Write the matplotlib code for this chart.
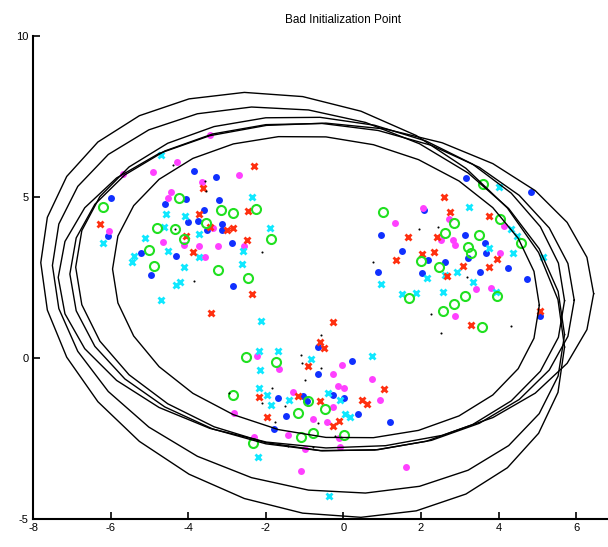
"""Bad GMM initialization: three clusters and the covariance ellipses it ended with."""

import numpy as np
import matplotlib
matplotlib.use("Agg")
import matplotlib.pyplot as plt

plt.rcParams["font.family"] = ["Liberation Sans", "DejaVu Sans"]
plt.rcParams["axes.unicode_minus"] = False

# --- data points (x, y) ---
blue_pts = [
    (-6.0, 4.96), (-6.08, 3.79), (-3.84, 5.81), (-3.29, 5.61), (-4.59, 4.77), (-4.06, 4.93),
    (-3.21, 4.91), (-3.6, 4.59), (-4.01, 4.22), (-3.76, 4.25), (-3.52, 3.98), (-3.14, 4.16),
    (-3.12, 3.98), (-2.88, 3.58), (-5.22, 3.25), (-4.32, 3.18), (-4.95, 2.57), (-2.85, 2.25),
    (3.16, 5.58), (4.83, 5.16), (2.09, 4.6), (0.96, 3.82), (1.5, 3.33), (3.13, 3.82),
    (3.65, 3.56), (2.19, 3.04), (2.62, 2.99), (3.22, 3.1), (3.68, 3.25), (0.9, 2.68),
    (2.03, 2.65), (3.52, 2.67), (4.25, 2.79), (4.74, 2.45), (5.07, 1.3),
    (-0.66, 0.33), (0.21, -0.09), (-0.66, -0.5), (-1.68, -1.25), (-1.03, -1.18), (-0.95, -1.33),
    (-0.28, -1.16), (0.02, -1.23), (-1.48, -1.8), (-1.79, -2.19), (0.38, -1.73), (1.19, -2.0),
]
magenta_pts = [
    (-4.28, 6.1), (-5.67, 5.71), (-4.9, 5.79), (-3.65, 5.48), (-2.69, 5.67), (-4.44, 5.15),
    (-4.53, 4.96), (-6.04, 3.94), (-4.64, 3.61), (-4.1, 3.51), (-3.71, 3.48), (-3.23, 3.47),
    (-2.57, 3.48), (-3.57, 3.13), (-3.35, 4.03), (-3.44, 6.93),
    (2.06, 4.67), (1.32, 4.18), (2.71, 4.31), (2.52, 3.66), (2.83, 3.66), (2.88, 3.5),
    (4.04, 3.27), (4.15, 4.1), (3.42, 2.13), (3.8, 2.16), (2.88, 1.3),
    (-2.23, 0.06), (-1.65, -0.35), (-0.03, -0.22), (-0.26, -0.5), (0.73, -0.66), (-0.13, -0.87),
    (0.02, -0.94), (-1.31, -1.05), (0.94, -1.3), (-2.82, -1.7), (-0.28, -1.52), (-0.79, -1.9),
    (-0.43, -1.98), (-2.3, -2.44), (-1.44, -2.39), (-0.11, -2.47), (-0.99, -2.84), (-0.09, -2.77),
    (-1.1, -3.5), (1.62, -3.37),
]
cyan_pts = [
    (-4.7, 6.3), (-2.35, 4.99), (-4.57, 4.47), (-4.08, 4.41), (-1.88, 4.03), (-4.63, 4.06),
    (-5.11, 3.72), (-6.19, 3.58), (-3.73, 3.84), (-4.53, 3.32), (-5.4, 3.17), (-5.45, 2.97),
    (-3.72, 3.15), (-4.12, 2.82), (-2.6, 3.32), (-2.61, 2.93), (-4.21, 2.37), (-4.32, 2.28),
    (-4.7, 1.8),
    (4.02, 5.32), (3.24, 4.68), (4.31, 4.0), (4.47, 3.79), (3.74, 3.43), (4.38, 3.27),
    (5.14, 3.15), (0.96, 2.3), (2.15, 2.48), (2.92, 2.68), (2.62, 2.58), (3.35, 2.36),
    (1.5, 1.99), (1.87, 2.01), (2.57, 2.06), (3.93, 2.06),
    (-2.13, 1.15), (-2.18, 0.23), (-1.68, 0.22), (-2.15, -0.38), (-0.84, -0.04), (0.75, 0.06),
    (-2.17, -0.92), (-1.98, -1.15), (-1.87, -1.46), (-1.4, -1.3), (-0.39, -1.08), (0.04, -1.74),
    (0.16, -1.84), (-0.09, -1.3), (-2.21, -3.07), (-0.36, -4.28),
]
red_pts = [
    (-2.3, 5.96), (-3.61, 5.29), (-2.46, 4.57), (-3.72, 4.47), (-6.27, 4.16), (-3.44, 4.06),
    (-3.01, 3.98), (-2.85, 4.03), (-4.06, 3.8), (-2.48, 3.66), (-3.88, 3.29), (-2.36, 2.0),
    (-3.41, 1.4),
    (2.59, 4.99), (2.76, 4.54), (3.74, 4.41), (1.67, 3.75), (2.42, 3.75), (2.03, 3.22),
    (2.34, 3.28), (1.36, 3.04), (3.09, 2.86), (3.74, 2.84), (3.95, 3.08), (2.68, 2.55),
    (3.28, 1.02), (5.07, 1.46),
    (-0.28, 1.11), (-0.6, 0.51), (-0.5, 0.3), (-0.92, -0.25), (-1.16, -1.18), (-2.17, -1.22),
    (-0.6, -1.33), (0.49, -1.3), (0.6, -1.43), (1.04, -0.95), (-1.98, -1.84), (-0.11, -1.95),
    (-0.26, -2.11),
]
green_pts = [
    (-6.2, 4.7), (-4.25, 4.96), (-3.15, 4.6), (-2.84, 4.51), (-2.26, 4.62), (-4.81, 4.03),
    (-4.34, 4.0), (-3.54, 4.18), (-4.11, 3.69), (-1.87, 3.71), (-5.0, 3.35), (-4.87, 2.86),
    (-3.24, 2.73), (-2.47, 2.49),
    (3.59, 5.39), (1.01, 4.52), (4.04, 4.31), (2.85, 4.2), (2.63, 3.89), (3.49, 3.83),
    (4.59, 3.56), (3.2, 3.46), (3.29, 3.25), (2.0, 3.02), (2.46, 2.82), (1.7, 1.85),
    (2.57, 1.47), (2.86, 1.68), (3.13, 1.93), (3.95, 1.94), (3.56, 0.97),
    (-2.51, 0.04), (-1.75, -0.13), (-2.85, -1.15), (-0.47, -1.58), (-1.16, -1.7), (-0.91, -1.35),
    (-1.1, -2.44), (-0.78, -2.32), (0.02, -2.39), (-2.34, -2.63),
]
black_pts = [
    (-3.57, 5.5), (-3.54, 5.2), (-4.34, 4.0), (-2.09, 3.29), (-3.84, 2.38), (-4.4, 6.0),
    (1.96, 4.0), (0.77, 2.99), (2.43, 4.08), (3.18, 2.53), (2.26, 1.37), (4.31, 1.0), (2.51, 0.77),
    (-0.59, 0.71), (-1.1, 0.09), (-1.07, -0.15), (-0.59, -0.32), (-0.99, -0.68), (-1.85, -0.94),
    (-2.11, -1.41), (-1.5, -1.49), (-2.94, -1.1), (-1.76, -1.98), (-0.65, -2.01), (-1.42, -2.73),
    (-0.78, -2.77), (-0.22, -2.42),
]

# --- fitted ellipses: centre, half-width in x, half-height in y, phase shift (tilt) ---
ell_cx = [-1.05, -0.9, -0.45, -0.55, -0.6, -0.45]
ell_cy = [1.65, 1.8, 2.25, 2.2, 2.3, 2.2]
ell_ax = [6.75, 6.6, 6.9, 6.5, 6.3, 5.5]
ell_ay = [6.6, 6.0, 5.05, 5.1, 5.2, 4.7]
ell_shift = [-0.2, -0.18, -0.05, -0.08, -0.1, -0.12]

fig = plt.figure(figsize=(6.08, 5.47), dpi=100)
ax = fig.add_axes([0.0543, 0.0512, 1.021, 0.883])


def scatter(pts, **kw):
    arr = np.array(pts)
    ax.plot(arr[:, 0], arr[:, 1], linestyle="none", **kw)


scatter(blue_pts, marker="o", color="#1030ff", markersize=5, markeredgewidth=0)
scatter(magenta_pts, marker="o", color="#ff40ff", markersize=5, markeredgewidth=0)
scatter(cyan_pts, marker="x", color="#10e8ff", markersize=4, markeredgewidth=2)
scatter(red_pts, marker="x", color="#ff3010", markersize=4, markeredgewidth=2)
scatter(green_pts, marker="o", markerfacecolor="none", markeredgecolor="#20e020",
        markersize=6.5, markeredgewidth=1.5)
scatter(black_pts, marker="o", color="black", markersize=1.5, markeredgewidth=0)

t = np.linspace(0, 2 * np.pi, 29)
for cx, cy, axx, ayy, d in zip(ell_cx, ell_cy, ell_ax, ell_ay, ell_shift):
    ax.plot(cx + axx * np.cos(t), cy + ayy * np.sin(t + d), color="black", linewidth=1.0)

ax.set_xlim(-8, 8)
ax.set_ylim(-5, 10)
ax.set_xticks(np.arange(-8, 7, 2))
ax.set_yticks([-5, 0, 5, 10])
ax.spines["top"].set_visible(False)
ax.spines["right"].set_visible(False)
ax.spines["left"].set_linewidth(1.5)
ax.spines["bottom"].set_linewidth(1.5)
ax.tick_params(direction="in", length=5, width=1.2, labelsize=8, pad=3)
ax.set_title("Bad Initialization Point", fontsize=8.5, pad=9)

fig.savefig("out.png", dpi=100)
